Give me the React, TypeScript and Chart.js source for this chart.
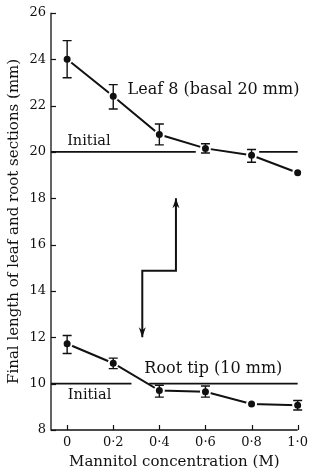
import React, { useEffect, useRef } from "react";
import { Chart, registerables } from "chart.js";

Chart.register(...registerables);

// ---- data ----
const concentrations = [0, 0.2, 0.4, 0.6, 0.8, 1.0];
const leafLength = [24.0, 22.4, 20.75, 20.15, 19.85, 19.1];
const leafErrHigh = [24.8, 22.9, 21.2, 20.35, 20.1, null];
const leafErrLow = [23.2, 21.85, 20.3, 19.95, 19.55, null];
const rootLength = [11.72, 10.88, 9.7, 9.65, 9.12, 9.07];
const rootErrHigh = [12.08, 11.1, 9.93, 9.9, null, 9.27];
const rootErrLow = [11.3, 10.65, 9.42, 9.42, null, 8.86];
const leafInitial = 20;
const rootInitial = 10;
const leafInitialSegments = [[-0.07, 0.558], [0.833, 1.0]];
const rootInitialSegments = [[-0.07, 0.279], [0.356, 1.0]];
const arrowX = [0.472, 0.472, 0.326, 0.326];
const arrowY = [18.0, 14.87, 14.87, 12.0];
const xTickValues = [0, 0.2, 0.4, 0.6, 0.8, 1.0];
const yTickValues = [8, 10, 12, 14, 16, 18, 20, 22, 24, 26];
const labels = [
  { text: "Leaf 8 (basal 20 mm)", x: 0.262, y: 22.68, size: 16 },
  { text: "Initial", x: 0.0, y: 20.45, size: 14.5 },
  { text: "Root tip (10 mm)", x: 0.335, y: 10.66, size: 16 },
  { text: "Initial", x: 0.003, y: 9.5, size: 14.5 },
];

const INK = "#111";
const FONT = "'DejaVu Serif', serif";

function segData(segs: number[][], yv: number) {
  const out: any[] = [];
  segs.forEach((s, i) => {
    if (i > 0) out.push({ x: (segs[i - 1][1] + s[0]) / 2, y: null });
    out.push({ x: s[0], y: yv });
    out.push({ x: s[1], y: yv });
  });
  return out;
}

const fmtX = (v: number) => (v === 0 ? "0" : v.toFixed(1).replace(".", "·"));

const decorPlugin = {
  id: "decor",
  afterDatasetsDraw(chart: any) {
    const { ctx, chartArea: a, scales } = chart;
    const x = scales.x;
    const y = scales.y;
    ctx.save();
    ctx.strokeStyle = INK;
    ctx.fillStyle = INK;
    ctx.lineCap = "butt";
    // axes
    ctx.lineWidth = 1.3;
    ctx.beginPath();
    ctx.moveTo(a.left, a.top);
    ctx.lineTo(a.left, a.bottom);
    ctx.lineTo(a.right, a.bottom);
    ctx.stroke();
    // inward ticks
    ctx.lineWidth = 1.2;
    y.ticks.forEach((t: any) => {
      const py = Math.round(y.getPixelForValue(t.value)) + 0.5;
      ctx.beginPath();
      ctx.moveTo(a.left, py);
      ctx.lineTo(a.left + 5, py);
      ctx.stroke();
    });
    x.ticks.forEach((t: any) => {
      const px = Math.round(x.getPixelForValue(t.value)) + 0.5;
      ctx.beginPath();
      ctx.moveTo(px, a.bottom);
      ctx.lineTo(px, a.bottom - 5);
      ctx.stroke();
    });
    // error bars
    const drawErr = (hi: (number | null)[], lo: (number | null)[]) => {
      concentrations.forEach((c, i) => {
        const h = hi[i];
        const l = lo[i];
        if (h == null || l == null) return;
        const px = x.getPixelForValue(c);
        const ph = y.getPixelForValue(h);
        const pl = y.getPixelForValue(l);
        ctx.lineWidth = 1.4;
        ctx.beginPath();
        ctx.moveTo(px, ph);
        ctx.lineTo(px, pl);
        ctx.moveTo(px - 4.5, ph);
        ctx.lineTo(px + 4.5, ph);
        ctx.moveTo(px - 4.5, pl);
        ctx.lineTo(px + 4.5, pl);
        ctx.stroke();
      });
    };
    drawErr(leafErrHigh, leafErrLow);
    drawErr(rootErrHigh, rootErrLow);
    // arrowheads
    const head = (tx: number, ty: number, fx: number, fy: number) => {
      const p1x = x.getPixelForValue(tx);
      const p1y = y.getPixelForValue(ty);
      const p0x = x.getPixelForValue(fx);
      const p0y = y.getPixelForValue(fy);
      const ang = Math.atan2(p1y - p0y, p1x - p0x);
      const len = 10;
      const w = 3.5;
      ctx.beginPath();
      ctx.moveTo(p1x, p1y);
      ctx.lineTo(
        p1x - len * Math.cos(ang) + w * Math.sin(ang),
        p1y - len * Math.sin(ang) - w * Math.cos(ang)
      );
      ctx.lineTo(
        p1x - len * 0.7 * Math.cos(ang),
        p1y - len * 0.7 * Math.sin(ang)
      );
      ctx.lineTo(
        p1x - len * Math.cos(ang) - w * Math.sin(ang),
        p1y - len * Math.sin(ang) + w * Math.cos(ang)
      );
      ctx.closePath();
      ctx.fill();
    };
    const n = arrowX.length;
    head(arrowX[0], arrowY[0], arrowX[1], arrowY[1]);
    head(arrowX[n - 1], arrowY[n - 1], arrowX[n - 2], arrowY[n - 2]);
    // annotation text
    ctx.textAlign = "left";
    ctx.textBaseline = "middle";
    labels.forEach((lb) => {
      ctx.font = `${lb.size}px ${FONT}`;
      ctx.fillText(lb.text, x.getPixelForValue(lb.x), y.getPixelForValue(lb.y));
    });
    ctx.restore();
  },
};

export default function App() {
  const ref = useRef<HTMLCanvasElement | null>(null);
  useEffect(() => {
    if (!ref.current) return;
    const seriesStyle = {
      borderColor: INK,
      borderWidth: 2,
      backgroundColor: INK,
      pointBackgroundColor: INK,
      pointBorderColor: "#fff",
      pointBorderWidth: 2,
      pointRadius: 4.5,
      pointHoverRadius: 4.5,
      tension: 0,
      clip: false as any,
    };
    const chart = new Chart(ref.current, {
      type: "line",
      data: {
        datasets: [
          {
            label: "Leaf 8 (basal 20 mm)",
            data: concentrations.map((c, i) => ({ x: c, y: leafLength[i] })),
            ...seriesStyle,
          },
          {
            label: "Root tip (10 mm)",
            data: concentrations.map((c, i) => ({ x: c, y: rootLength[i] })),
            ...seriesStyle,
          },
          {
            label: "Leaf initial",
            data: segData(leafInitialSegments, leafInitial),
            borderColor: INK,
            borderWidth: 1.6,
            pointRadius: 0,
            spanGaps: false,
            clip: false as any,
          },
          {
            label: "Root initial",
            data: segData(rootInitialSegments, rootInitial),
            borderColor: INK,
            borderWidth: 1.6,
            pointRadius: 0,
            spanGaps: false,
            clip: false as any,
          },
          {
            label: "Arrow",
            data: arrowX.map((v, i) => ({ x: v, y: arrowY[i] })),
            borderColor: INK,
            borderWidth: 2,
            pointRadius: 0,
            tension: 0,
            clip: false as any,
          },
        ],
      },
      options: {
        animation: false,
        responsive: false,
        events: [],
        layout: { padding: { top: 11, right: 13, left: 0, bottom: 0 } },
        plugins: { legend: { display: false }, tooltip: { enabled: false } },
        scales: {
          x: {
            type: "linear",
            min: -0.07,
            max: 1.0,
            grid: { display: false, drawTicks: false },
            border: { display: false },
            afterBuildTicks: (s: any) => {
              s.ticks = xTickValues.map((v) => ({ value: v }));
            },
            afterFit: (s: any) => {
              s.height = 44;
            },
            ticks: {
              autoSkip: false,
              maxRotation: 0,
              padding: 5,
              color: INK,
              font: { family: FONT, size: 13 },
              callback: (v: any) => fmtX(Number(v)),
            },
            title: {
              display: true,
              text: "Mannitol concentration (M)",
              color: INK,
              font: { family: FONT, size: 15 },
              padding: { top: 0, bottom: 3 },
            },
          },
          y: {
            type: "linear",
            min: 8,
            max: 26,
            grid: { display: false, drawTicks: false },
            border: { display: false },
            afterBuildTicks: (s: any) => {
              s.ticks = yTickValues.map((v) => ({ value: v }));
            },
            afterFit: (s: any) => {
              s.width = 51;
            },
            ticks: {
              padding: 5,
              color: INK,
              font: { family: FONT, size: 13 },
            },
            title: {
              display: true,
              text: "Final length of leaf and root sections (mm)",
              color: INK,
              font: { family: FONT, size: 15 },
              padding: { top: 5, bottom: 0 },
            },
          },
        },
      },
      plugins: [decorPlugin],
    });
    return () => chart.destroy();
  }, []);
  return (
    <div style={{ position: "absolute", left: 0, top: 0, width: 313, height: 474, background: "#fff" }}>
      <canvas ref={ref} width={313} height={474} style={{ display: "block" }} />
    </div>
  );
}
